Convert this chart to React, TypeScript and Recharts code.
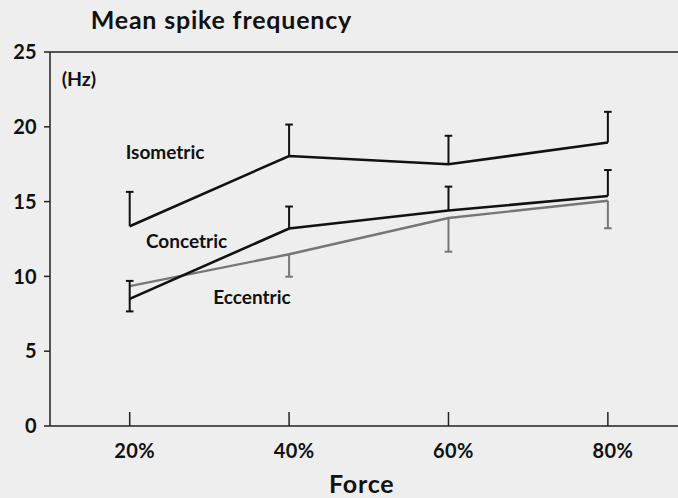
import React from 'react';
import { LineChart, Line, XAxis, YAxis, ErrorBar, ReferenceLine } from 'recharts';

const forces = [20, 40, 60, 80];
const forceLabels = ['20%', '40%', '60%', '80%'];
const yTicks = [0, 5, 10, 15, 20, 25];

const isometric = [13.35, 18.05, 17.5, 18.95];
const isometricErrUp = [2.3, 2.1, 1.9, 2.05];
const concentric = [8.5, 13.2, 14.4, 15.37];
const concentricErrUp = [1.2, 1.47, 1.6, 1.74];
const concentricErrDown = [0.84, 0, 0, 0];
const eccentric = [9.35, 11.48, 13.9, 15.06];
const eccentricErrDown = [0, 1.5, 2.25, 1.84];

const data = forces.map((f, i) => ({
  force: f,
  iso: isometric[i],
  isoErr: [0, isometricErrUp[i]],
  isoHi: isometric[i] + isometricErrUp[i],
  con: concentric[i],
  conErr: [concentricErrDown[i], concentricErrUp[i]],
  conHi: concentric[i] + concentricErrUp[i],
  conLo: concentricErrDown[i] > 0 ? concentric[i] - concentricErrDown[i] : null,
  ecc: eccentric[i],
  eccErr: [eccentricErrDown[i], 0],
  eccLo: eccentricErrDown[i] > 0 ? eccentric[i] - eccentricErrDown[i] : null,
}));

const FONT = 'Lato, "Open Sans", sans-serif';
const INK = '#111';
const GREY = '#767676';

const XTick = (props: any) => {
  const { x, y, payload } = props;
  const idx = forces.indexOf(payload.value);
  return (
    <g>
      <line x1={x} x2={x} y1={y - 14} y2={y} stroke="#222" strokeWidth={1.5} />
      <text x={x + 5} y={y + 32} textAnchor="middle" fontFamily={FONT} fontWeight={700} fontSize={20} letterSpacing={0.4} fill={INK}>
        {forceLabels[idx]}
      </text>
    </g>
  );
};

const makeCap = (color: string) => (p: any) => {
  const { cx, cy, index, value } = p;
  if (cx == null || cy == null || value == null || Number.isNaN(cy)) return <g key={`c${index}`} />;
  return <line key={`c${index}`} x1={cx - 3.8} x2={cx + 3.8} y1={cy} y2={cy} stroke={color} strokeWidth={2} />;
};

export default function App() {
  return (
    <div style={{ position: 'fixed', left: 0, top: 0, width: 678, height: 498, background: '#eeeeee', overflow: 'hidden' }}>
      <LineChart width={678} height={498} data={data} margin={{ top: 52, right: 0, bottom: 42, left: 0 }}>
        <ReferenceLine y={25} stroke="#222" strokeWidth={1.5} ifOverflow="extendDomain" />
        <XAxis
          type="number"
          dataKey="force"
          domain={[10, 88.8]}
          ticks={forces}
          height={30}
          tickLine={false}
          tickSize={0}
          tickMargin={0}
          tick={<XTick />}
          axisLine={{ stroke: '#222', strokeWidth: 1.5 }}
          allowDataOverflow
        />
        <YAxis
          type="number"
          domain={[0, 25]}
          ticks={yTicks}
          width={50}
          tickSize={6}
          tickMargin={7}
          axisLine={{ stroke: '#222', strokeWidth: 1.5 }}
          tickLine={{ stroke: '#222', strokeWidth: 1.5 }}
          tick={{ fontFamily: FONT, fontWeight: 700, fontSize: 20, fill: INK, letterSpacing: 0.3 }}
          interval={0}
        />
        <Line dataKey="ecc" stroke={GREY} strokeWidth={2.4} dot={false} isAnimationActive={false}>
          <ErrorBar dataKey="eccErr" direction="y" width={0} stroke={GREY} strokeWidth={2} />
        </Line>
        <Line dataKey="eccLo" stroke="none" dot={makeCap(GREY)} activeDot={false} isAnimationActive={false} connectNulls={false} />
        <Line dataKey="con" stroke={INK} strokeWidth={2.6} dot={false} isAnimationActive={false}>
          <ErrorBar dataKey="conErr" direction="y" width={0} stroke={INK} strokeWidth={2} />
        </Line>
        <Line dataKey="conHi" stroke="none" dot={makeCap(INK)} activeDot={false} isAnimationActive={false} />
        <Line dataKey="conLo" stroke="none" dot={makeCap(INK)} activeDot={false} isAnimationActive={false} connectNulls={false} />
        <Line dataKey="iso" stroke={INK} strokeWidth={2.6} dot={false} isAnimationActive={false}>
          <ErrorBar dataKey="isoErr" direction="y" width={0} stroke={INK} strokeWidth={2} />
        </Line>
        <Line dataKey="isoHi" stroke="none" dot={makeCap(INK)} activeDot={false} isAnimationActive={false} />
      </LineChart>
      <svg width={678} height={498} style={{ position: 'absolute', left: 0, top: 0, pointerEvents: 'none' }}>
        <g fontFamily={FONT} fontWeight={700} fill={INK}>
          <text x={90.7} y={29} fontSize={25} letterSpacing={0.8}>Mean spike frequency</text>
          <text x={61.7} y={86} fontSize={19.5}>(Hz)</text>
          <text x={125.7} y={159} fontSize={19}>Isometric</text>
          <text x={146} y={247.7} fontSize={19}>Concetric</text>
          <text x={213.3} y={303.7} fontSize={19}>Eccentric</text>
          <text x={361.7} y={493} fontSize={25} letterSpacing={0.8} textAnchor="middle">Force</text>
        </g>
      </svg>
    </div>
  );
}
